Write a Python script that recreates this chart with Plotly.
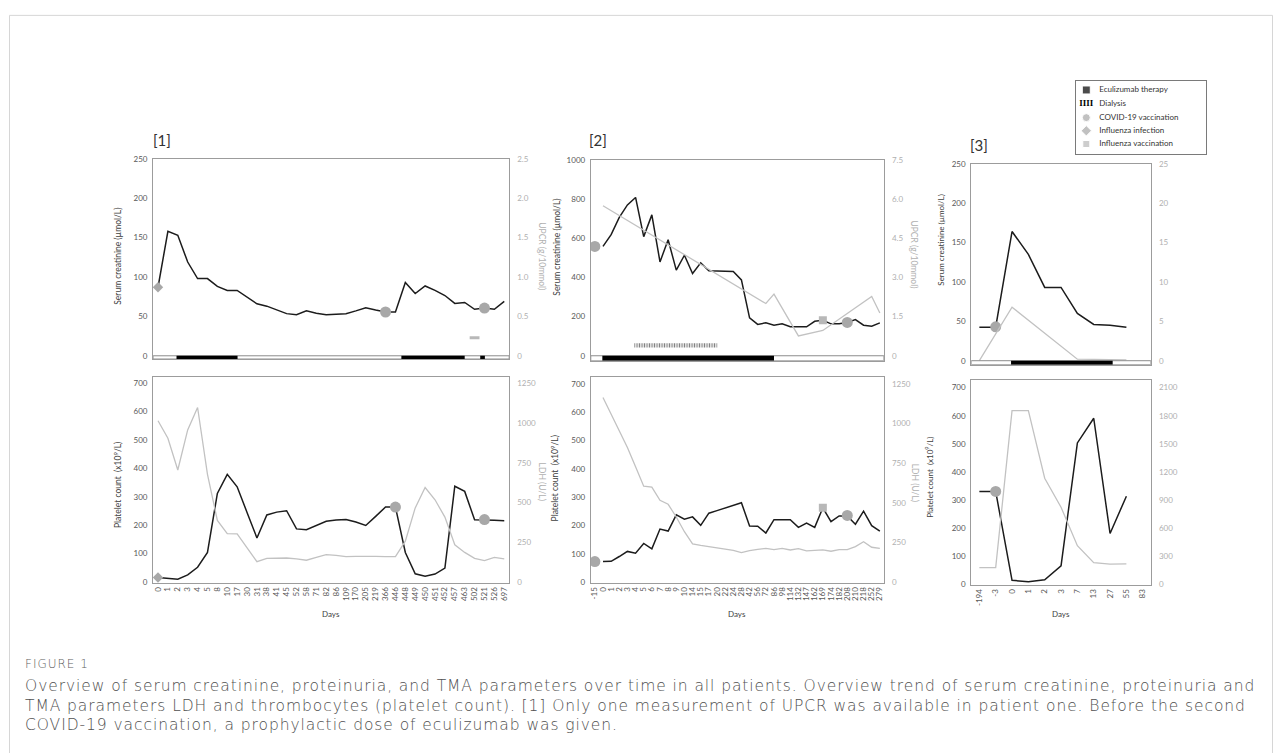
import plotly.graph_objects as go

W, H = 1282, 753

# ---------------- data ----------------
# Patient 1
p1_days = ["0", "1", "2", "3", "4", "5", "8", "10", "17", "30", "31", "38", "41", "45", "52", "58",
           "71", "82", "86", "109", "170", "205", "219", "366", "446", "448", "449", "450", "451",
           "452", "457", "463", "502", "521", "526", "697"]
p1_creatinine = [87, 158, 153, 119, 98, 98, 88, 83, 83, 74, 66, 63, 58, 53.5, 52, 57, 54, 52, 52.7,
                 53.5, 57, 61, 58, 55.6, 55.6, 93, 79, 88.6, 83, 76.5, 66.5, 67.7, 59, 60.6, 59, 69]
p1_upcr = [None] * 32 + [0.23] + [None] * 3
p1_platelets = [16, 13, 10, 25, 52, 104, 312, 379, 335, 245, 155, 236, 246, 251, 187, 184, 199, 214,
                218, 220, 211, 199, 231, 264, 264, 104, 29, 20, 28, 49, 337, 319, 219, 219, 217, 216]
p1_ldh = [1014, 904, 704, 956, 1097, 677, 387, 304, 302, 213, 128, 149, 149, 151, 145, 137, 155, 172,
          168, 159, 161, 163, 161, 159, 159, 257, 466, 594, 517, 408, 234, 186, 149, 135, 155, 145]
p1_eculizumab = [(1.87, 8.04), (24.6, 31.0), (32.57, 33.04)]      # category-index spans
p1_covid_top_days, p1_covid_top_vals = ["366", "521"], [55.6, 60.6]
p1_covid_bot_days, p1_covid_bot_vals = ["446", "521"], [264, 220]
p1_flu_inf_days, p1_flu_inf_top, p1_flu_inf_bot = ["0"], [87], [16]

# Patient 2
p2_days = ["-15", "0", "1", "2", "3", "4", "5", "6", "7", "8", "9", "10", "14", "15", "17", "20", "22",
           "24", "28", "42", "56", "72", "86", "98", "114", "132", "147", "162", "169", "174", "182",
           "208", "210", "218", "252", "279"]
p2_creatinine = [None, 558, 618, 706, 770, 808, 608, 719, 479, 592, 437, 513, 420, 474, 434, 433, 432,
                 430, 387, 193, 160, 168, 156, 163, 148, 148, 148, 176, 181, 163, 163, 170, 185, 156,
                 151, 168]
p2_upcr = [None, 5.74] + [None] * 19 + [2.0, 2.36, None, None, 0.76, None, None, 0.97] + [None] * 5 + [2.27, 1.64]
p2_platelets = [None, 72, 73, 90, 108, 102, 136, 117, 187, 180, 237, 222, 230, 200, 243, 252, 261, 270,
                280, 198, 197, 173, 220, 220, 220, 193, 208, 193, 262, 213, 233, 233, 204, 250, 199, 180]
p2_ldh = [None, 1163, 1060, 948, 848, 727, 604, 598, 515, 490, 410, 317, 240, 231, 223, 219, 210, 200,
          185, 198, 206, 212, 204, 212, 202, 210, 196, 200, 202, 194, 204, 204, 223, 254, 219, 212]
p2_eculizumab = [(0.92, 22.0)]
p2_dialysis = [(4.85, 15.05)]
p2_covid_top_days, p2_covid_top_vals = ["-15", "208"], [558, 170]
p2_covid_bot_days, p2_covid_bot_vals = ["-15", "208"], [72, 235]
p2_flu_vac_days, p2_flu_vac_top, p2_flu_vac_bot = ["169"], [181], [262]

# Patient 3
p3_days = ["-194", "-3", "0", "1", "2", "3", "7", "13", "27", "55", "83"]
p3_creatinine = [42.6, 42.6, 164, 135, 93, 93, 60, 46, 45, 42.6, None]
p3_upcr = [0, None, 6.8, None, None, None, 0.2, None, None, 0.1, None]
p3_platelets = [330, 330, 13, 8, 15, 65, 503, 591, 180, 313, None]
p3_ldh = [176, 176, 1854, 1854, 1131, 821, 409, 229, 212, 215, None]
p3_eculizumab = [(1.94, 8.16)]
p3_covid_top_days, p3_covid_top_vals = ["-3"], [43]
p3_covid_bot_days, p3_covid_bot_vals = ["-3"], [330]

legend_labels = ["Eculizumab therapy", "Dialysis", "COVID-19 vaccination", "Influenza infection",
                 "Influenza vaccination"]

caption_lines = [
    "Overview of serum creatinine, proteinuria, and TMA parameters over time in all patients. "
    "Overview trend of serum creatinine, proteinuria and",
    "TMA parameters LDH and thrombocytes (platelet count). [1] Only one measurement of UPCR "
    "was available in patient one. Before the second",
    "COVID-19 vaccination, a prophylactic dose of eculizumab was given.",
]

# ---------------- styling ----------------
FONT = "Lato"
CAPFONT = "DejaVu Sans"
BLACK = "#1c1c1c"
GLINE = "#c2c2c2"
MARK = "#a8a8a8"
SQ = "#b8b8b8"
AXL = "#9c9c9c"
TL = "#595959"
TR = "#b0b0b0"


def xdom(l, r):
    return [l / W, r / W]


def ydom(t, b):
    return [1 - b / H, 1 - t / H]


def sfx(i):
    return "" if i == 1 else str(i)


fig = go.Figure()
layout = {}
shapes = []

panels = [
    (1, p1_days, (152.3, 509), (155.7, 358.3), [-4.1, 250], [0, 50, 100, 150, 200, 250],
     [-0.041, 2.5], [0, 0.5, 1, 1.5, 2, 2.5], ["0", "0.5", "1.0", "1.5", "2.0", "2.5"], False),
    (2, p1_days, (152.3, 509), (376.7, 585), [-3.5, 721], [0, 100, 200, 300, 400, 500, 600, 700],
     [-6.25, 1287.5], [0, 250, 500, 750, 1000, 1250], None, True),
    (3, p2_days, (590.7, 884.3), (156.7, 360), [-25.2, 1000], [0, 200, 400, 600, 800, 1000],
     [-0.189, 7.5], [0, 1.5, 3, 4.5, 6, 7.5], ["0", "1.5", "3.0", "4.5", "6.0", "7.5"], False),
    (4, p2_days, (590.7, 884.3), (376.7, 585), [-3.5, 723], [0, 100, 200, 300, 400, 500, 600, 700],
     [-6.25, 1291], [0, 250, 500, 750, 1000, 1250], None, True),
    (5, p3_days, (971.7, 1151.7), (160.7, 364), [-5, 250], [0, 50, 100, 150, 200, 250],
     [-0.5, 25], [0, 5, 10, 15, 20, 25], None, False),
    (6, p3_days, (971.7, 1151.7), (380, 587), [-3.5, 725.7], [0, 100, 200, 300, 400, 500, 600, 700],
     [-10.5, 2177], [0, 300, 600, 900, 1200, 1500, 1800, 2100], None, True),
]

tickfont_l = dict(family=FONT, size=8, color=TL)
tickfont_r = dict(family=FONT, size=8, color=TR)

for (i, days, xp, yp, lr, lt, rr, rt, rtt, bottom) in panels:
    n = len(days)
    layout[f"xaxis{sfx(i)}"] = dict(
        domain=xdom(*xp), range=[-0.5, n - 0.5], anchor=f"y{sfx(i)}",
        tickmode="array", tickvals=list(range(n)), ticktext=days, tickangle=-90,
        showticklabels=bottom, showline=True, mirror=True, linecolor=AXL, linewidth=1,
        showgrid=False, zeroline=False, ticks="", tickfont=dict(family=FONT, size=8, color=TL),
        fixedrange=True)
    layout[f"yaxis{sfx(i)}"] = dict(
        domain=ydom(*yp), range=lr, anchor=f"x{sfx(i)}", tickmode="array", tickvals=lt,
        showline=True, mirror=True, linecolor=AXL, linewidth=1, showgrid=False, zeroline=False,
        ticks="", tickfont=tickfont_l, ticklabelstandoff=3, fixedrange=True)
    r = dict(range=rr, anchor=f"x{sfx(i)}", overlaying=f"y{sfx(i)}", side="right",
             tickmode="array", tickvals=rt, showline=False, showgrid=False, zeroline=False,
             ticks="", tickfont=tickfont_r, ticklabelstandoff=7, fixedrange=True)
    if rtt:
        r["ticktext"] = rtt
    layout[f"yaxis{i + 6}"] = r


def add_line(i, right, ys, color, width, gaps=False):
    fig.add_trace(go.Scatter(
        x=list(range(len(ys))), y=ys, mode="lines", connectgaps=gaps,
        line=dict(color=color, width=width), xaxis=f"x{sfx(i)}",
        yaxis=f"y{i + 6}" if right else f"y{sfx(i)}", hoverinfo="skip"))


def add_marks(i, days, sel_days, vals, symbol, size, color, right=False, line=None):
    xs = [days.index(d) for d in sel_days]
    m = dict(symbol=symbol, size=size, color=color)
    if line:
        m["line"] = line
    fig.add_trace(go.Scatter(
        x=xs, y=vals, mode="markers", marker=m, xaxis=f"x{sfx(i)}",
        yaxis=f"y{i + 6}" if right else f"y{sfx(i)}", hoverinfo="skip"))


def add_strip(i, n, ymin, spans):
    xr, yr = f"x{sfx(i)}", f"y{sfx(i)}"
    shapes.append(dict(type="rect", xref=xr, yref=yr, x0=-0.5, x1=n - 0.5, y0=ymin, y1=0,
                       fillcolor="white", line=dict(color="#8c8c8c", width=1), layer="above"))
    for a, b in spans:
        shapes.append(dict(type="rect", xref=xr, yref=yr, x0=a, x1=b, y0=ymin, y1=0,
                           fillcolor="#000000", line=dict(width=0), layer="above"))


# ---- Patient 1 ----
fig.add_trace(go.Scatter(x=list(range(len(p1_upcr))), y=p1_upcr, mode="markers",
                         marker=dict(symbol="line-ew", size=7, line=dict(color=SQ, width=3)),
                         xaxis="x", yaxis="y7", hoverinfo="skip"))
add_line(1, False, p1_creatinine, BLACK, 1.5)
add_marks(1, p1_days, p1_covid_top_days, p1_covid_top_vals, "circle", 11, MARK)
add_marks(1, p1_days, p1_flu_inf_days, p1_flu_inf_top, "diamond", 8, MARK)
add_strip(1, len(p1_days), -4.1, p1_eculizumab)

add_line(2, True, p1_ldh, GLINE, 1.3)
add_line(2, False, p1_platelets, BLACK, 1.5)
add_marks(2, p1_days, p1_covid_bot_days, p1_covid_bot_vals, "circle", 11, MARK)
add_marks(2, p1_days, p1_flu_inf_days, p1_flu_inf_bot, "diamond", 8, MARK)

# ---- Patient 2 ----
add_line(3, True, p2_upcr, GLINE, 1.3, gaps=True)
add_line(3, False, p2_creatinine, BLACK, 1.5)
add_marks(3, p2_days, p2_covid_top_days, p2_covid_top_vals, "circle", 11, MARK)
add_marks(3, p2_days, p2_flu_vac_days, p2_flu_vac_top, "square", 8, SQ)
add_strip(3, len(p2_days), -25.2, p2_eculizumab)
for a, b in p2_dialysis:
    fig.add_trace(go.Bar(orientation="h", y=[53], x=[b - a], base=[a], width=[22],
                         marker=dict(color="white", line=dict(width=0),
                                     pattern=dict(shape="|", fgcolor="black", bgcolor="white",
                                                  size=2.5, solidity=0.5)),
                         xaxis="x3", yaxis="y3", hoverinfo="skip"))

add_line(4, True, p2_ldh, GLINE, 1.3)
add_line(4, False, p2_platelets, BLACK, 1.5)
add_marks(4, p2_days, p2_covid_bot_days, p2_covid_bot_vals, "circle", 11, MARK)
add_marks(4, p2_days, p2_flu_vac_days, p2_flu_vac_bot, "square", 8, SQ)

# ---- Patient 3 ----
add_line(5, True, p3_upcr, GLINE, 1.3, gaps=True)
add_line(5, False, p3_creatinine, BLACK, 1.5)
add_marks(5, p3_days, p3_covid_top_days, p3_covid_top_vals, "circle", 11, MARK)
add_strip(5, len(p3_days), -5, p3_eculizumab)

add_line(6, True, p3_ldh, GLINE, 1.3)
add_line(6, False, p3_platelets, BLACK, 1.5)
add_marks(6, p3_days, p3_covid_bot_days, p3_covid_bot_vals, "circle", 11, MARK)

# ---- Legend (drawn on its own small axes) ----
layout["xaxis7"] = dict(domain=xdom(1077, 1207), range=[0, 130], anchor="y13",
                        showticklabels=False, showgrid=False, zeroline=False, ticks="",
                        showline=True, mirror=True, linecolor="#7a7a7a", fixedrange=True)
layout["yaxis13"] = dict(domain=ydom(77, 151), range=[74, 0], anchor="x7",
                         showticklabels=False, showgrid=False, zeroline=False, ticks="",
                         showline=True, mirror=True, linecolor="#7a7a7a", fixedrange=True)
leg_y = [9, 23, 37, 50.3, 63.7]
fig.add_trace(go.Scatter(x=[10, 10, 10, 10], y=[leg_y[0], leg_y[2], leg_y[3], leg_y[4]],
                         mode="markers",
                         marker=dict(symbol=["square", "circle", "diamond", "square"],
                                     size=[8, 8, 8, 7], color=["#000000", MARK, MARK, SQ]),
                         xaxis="x7", yaxis="y13", hoverinfo="skip"))
fig.add_trace(go.Scatter(x=[10], y=[leg_y[1]], mode="text", text=["<b>IIII</b>"],
                         textposition="middle center",
                         textfont=dict(family="Liberation Sans Narrow", size=9, color="#000000"),
                         xaxis="x7", yaxis="y13", hoverinfo="skip"))
fig.add_trace(go.Scatter(x=[23] * 5, y=leg_y, mode="text", text=legend_labels,
                         textposition="middle right",
                         textfont=dict(family=FONT, size=8, color="#333333"),
                         xaxis="x7", yaxis="y13", hoverinfo="skip"))

# ---- annotations ----
ann = []


def a_px(x, y, text, size=8, color="#404040", angle=0, xanchor="center", family=FONT, weight=None):
    f = dict(family=family, size=size, color=color)
    if weight:
        f["weight"] = weight
    ann.append(dict(x=x / W, y=1 - y / H, xref="paper", yref="paper", text=text, showarrow=False,
                    textangle=angle, xanchor=xanchor, yanchor="middle", font=f))


a_px(161, 137, "[1]", size=15, color="#333333")
a_px(598, 137, "[2]", size=15, color="#333333")
a_px(980, 142, "[3]", size=15, color="#333333")

a_px(117, 254, "Serum creatinine (µmol/L)", size=8.5, angle=-90)
a_px(556.5, 245, "Serum creatinine (µmol/L)", size=8.5, angle=-90)
a_px(942, 238, "Serum creatinine (µmol/L)", size=8, angle=-90)
a_px(117, 486, "Platelet count  (x10<sup>9</sup>/L)", size=8.5, angle=-90)
a_px(555, 479, "Platelet count  (x10<sup>9</sup>/L)", size=8.5, angle=-90)
a_px(929, 478, "Platelet count  (x10<sup>9</sup>/L)", size=8, angle=-90)

a_px(541.5, 254, "UPCR (g/10mmol)", size=8.5, color=TR, angle=90)
a_px(914, 252, "UPCR (g/10mmol)", size=8.5, color=TR, angle=90)
a_px(541.5, 482, "LDH (U/L)", size=8.5, color=TR, angle=90)
a_px(915, 483, "LDH (U/L)", size=8.5, color=TR, angle=90)

a_px(331, 616, "Days", size=8)
a_px(737, 616, "Days", size=8)
a_px(1062, 616, "Days", size=8)

cap = "#505050"
a_px(22, 667, '<span style="letter-spacing:1px">FIGURE 1</span>', size=12, color="#606060",
     xanchor="left", family=CAPFONT, weight=300)
for k, line in enumerate(caption_lines):
    a_px(22, 689 + 20 * k, f'<span style="letter-spacing:0.93px">{line}</span>', size=15.5,
         color=cap, xanchor="left", family=CAPFONT, weight=300)

# card border
shapes.append(dict(type="rect", xref="paper", yref="paper", x0=8.5 / W, x1=1273.5 / W,
                   y0=-0.2, y1=1 - 10.5 / H, line=dict(color="#d6d6d6", width=1),
                   fillcolor="rgba(0,0,0,0)", layer="below"))

fig.update_layout(
    width=W, height=H, autosize=False, margin=dict(l=0, r=0, t=0, b=0),
    paper_bgcolor="white", plot_bgcolor="rgba(0,0,0,0)", showlegend=False,
    annotations=ann, shapes=shapes, font=dict(family=FONT), **layout)

fig.write_html("out.html", config={"displayModeBar": False},
               post_script="document.body.style.margin='0';document.body.style.overflow='hidden';")
